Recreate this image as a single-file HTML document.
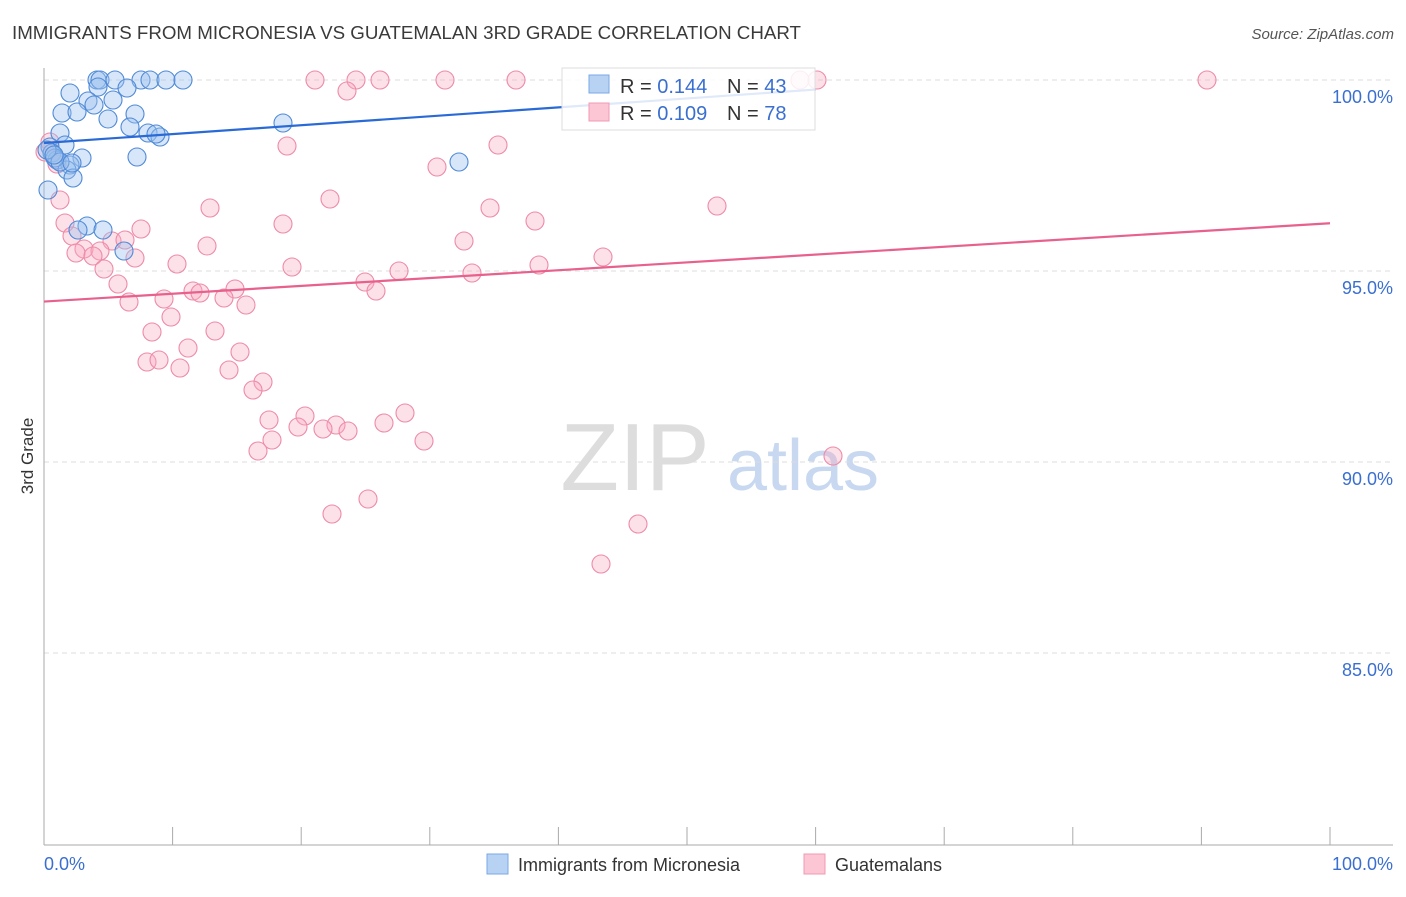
<!DOCTYPE html>
<html><head><meta charset="utf-8"><style>
body{margin:0;background:#fff;font-family:"Liberation Sans",sans-serif;}
svg text{font-family:"Liberation Sans",sans-serif;}
</style></head><body>
<svg id="chart" width="1406" height="892" xmlns="http://www.w3.org/2000/svg">
<text x="12" y="39" font-size="18" fill="#3a3a3a" textLength="789" lengthAdjust="spacingAndGlyphs">IMMIGRANTS FROM MICRONESIA VS GUATEMALAN 3RD GRADE CORRELATION CHART</text>
<text x="1394" y="39" font-size="15" fill="#555" text-anchor="end" font-style="italic">Source: ZipAtlas.com</text>
<text transform="translate(33,456) rotate(-90)" font-size="17" fill="#333" text-anchor="middle">3rd Grade</text>
<g>
<text x="635" y="490" font-size="96" fill="#ddd" text-anchor="middle" font-family="Liberation Serif,serif">ZIP</text>
<text x="803" y="490" font-size="72" fill="#c8d8f0" text-anchor="middle">atlas</text>
</g>
<g id="grid"></g>
<g id="axes"></g>
<g id="pts"></g>
<g id="lines"></g>
<g>
<rect x="562" y="68" width="253" height="62" fill="#fff" fill-opacity="0.85" stroke="#ddd"/>
<rect x="589" y="75" width="20" height="18" fill="#b8d2f3" stroke="#7aa8e6"/>
<rect x="589" y="103" width="20" height="18" fill="#fcc6d5" stroke="#f09ab4"/>
<text x="620" y="93" font-size="20" fill="#333">R = <tspan fill="#3a6fd0">0.144</tspan></text>
<text x="727" y="93" font-size="20" fill="#333">N = <tspan fill="#3a6fd0">43</tspan></text>
<text x="620" y="120" font-size="20" fill="#333">R = <tspan fill="#3a6fd0">0.109</tspan></text>
<text x="727" y="120" font-size="20" fill="#333">N = <tspan fill="#3a6fd0">78</tspan></text>
</g>
<g>
<rect x="487" y="854" width="21" height="20" fill="#b8d2f3" stroke="#7aa8e6"/>
<text x="518" y="871" font-size="18" fill="#333">Immigrants from Micronesia</text>
<rect x="804" y="854" width="21" height="20" fill="#fcc6d5" stroke="#f09ab4"/>
<text x="835" y="871" font-size="18" fill="#333">Guatemalans</text>
</g>
</svg>
<script>
const yTicks=[100,95,90,85];
const yTickLabels=["100.0%","95.0%","90.0%","85.0%"];
const xTickLabels=["0.0%","100.0%"];
const bluePx=[[97,80],[100,80],[115,80],[141,80],[150,80],[166,80],[183,80],[98,87],[127,88],[70,93],[88,101],[113,100],[94,105],[62,113],[77,112],[135,114],[108,119],[130,127],[148,133],[160,137],[156,134],[60,133],[65,145],[50,147],[52,153],[57,160],[82,158],[137,157],[70,165],[67,170],[73,178],[48,190],[87,226],[78,230],[103,230],[124,251],[283,123],[459,162],[55,158],[60,162],[47,150],[54,155],[72,163]];
const pinkPx=[[315,80],[356,80],[380,80],[445,80],[516,80],[800,80],[817,80],[1207,80],[347,91],[287,146],[498,145],[437,167],[50,142],[45,152],[57,164],[330,199],[60,200],[210,208],[717,206],[490,208],[535,221],[65,223],[283,224],[141,229],[72,236],[84,249],[464,241],[207,246],[112,241],[125,240],[100,251],[76,253],[93,256],[135,258],[177,264],[292,267],[399,271],[472,273],[539,265],[603,257],[104,269],[118,284],[365,282],[376,291],[193,291],[200,293],[235,289],[224,298],[246,305],[164,299],[129,302],[171,317],[152,332],[215,331],[188,348],[240,352],[147,362],[159,360],[180,368],[229,370],[263,382],[253,390],[269,420],[305,416],[298,427],[336,425],[323,429],[348,431],[384,423],[405,413],[424,441],[272,440],[258,451],[833,456],[368,499],[332,514],[638,524],[601,564]];
// data values (x %, y %) derived from reading the chart
const blueX=bluePx.map(p=>(p[0]-44)/12.86), blueY=bluePx.map(p=>100-(p[1]-80)/38.2);
const pinkX=pinkPx.map(p=>(p[0]-44)/12.86), pinkY=pinkPx.map(p=>100-(p[1]-80)/38.2);
const blueTrend=[[0,98.35],[60,99.75]];
const pinkTrend=[[0,94.2],[100,96.25]];

const X0=44,X1=1330,Y100=80,PX5=191;
const xs=v=>X0+(X1-X0)*v/100;
const ys=v=>Y100+(100-v)*PX5/5;
const NS="http://www.w3.org/2000/svg";
function mk(tag,attrs,parent){const e=document.createElementNS(NS,tag);for(const k in attrs)e.setAttribute(k,attrs[k]);document.getElementById(parent).appendChild(e);return e;}
yTicks.forEach((t,i)=>{
 const g=mk('line',{x1:X0,x2:1393,y1:ys(t),y2:ys(t),stroke:'#ddd','stroke-dasharray':'5,4'},'grid');
 
 
 const tx=mk('text',{x:1393,y:ys(t)+23,'font-size':18,fill:'#3a6fd0','text-anchor':'end'},'grid');
 tx.textContent=yTickLabels[i];
 
 
});
const ax=mk('line',{x1:X0,x2:X0,y1:68,y2:845,stroke:'#aaa'},'axes');


const bx=mk('line',{x1:X0,x2:1393,y1:845,y2:845,stroke:'#aaa'},'axes');


for(let i=0;i<=10;i++){
 const t=mk('line',{x1:xs(i*10),x2:xs(i*10),y1:827,y2:845,stroke:'#aaa'},'axes');
 
 
}
[[0,'start',44],[100,'end',1393]].forEach((d,i)=>{
 const t=mk('text',{x:d[2],y:870,'font-size':18,fill:'#3a6fd0','text-anchor':d[1]},'axes');
 t.textContent=xTickLabels[i];
 
 
});
pinkX.forEach((x,i)=>{
 const c=mk('circle',{cx:xs(x),cy:ys(pinkY[i]),r:9,fill:'#f8a9c0','fill-opacity':0.35,stroke:'#ee8aa8','stroke-width':1.1},'pts');
 
 
});
blueX.forEach((x,i)=>{
 const c=mk('circle',{cx:xs(x),cy:ys(blueY[i]),r:9,fill:'#9cc0ee','fill-opacity':0.4,stroke:'#4f8ad8','stroke-width':1.1},'pts');
 
 
});
const bl=mk('line',{x1:xs(blueTrend[0][0]),y1:ys(blueTrend[0][1]),x2:xs(blueTrend[1][0]),y2:ys(blueTrend[1][1]),stroke:'#2a6ad6','stroke-width':2.2},'lines');


const pl=mk('line',{x1:xs(pinkTrend[0][0]),y1:ys(pinkTrend[0][1]),x2:xs(pinkTrend[1][0]),y2:ys(pinkTrend[1][1]),stroke:'#e8608c','stroke-width':2.2},'lines');


</script>
</body></html>
